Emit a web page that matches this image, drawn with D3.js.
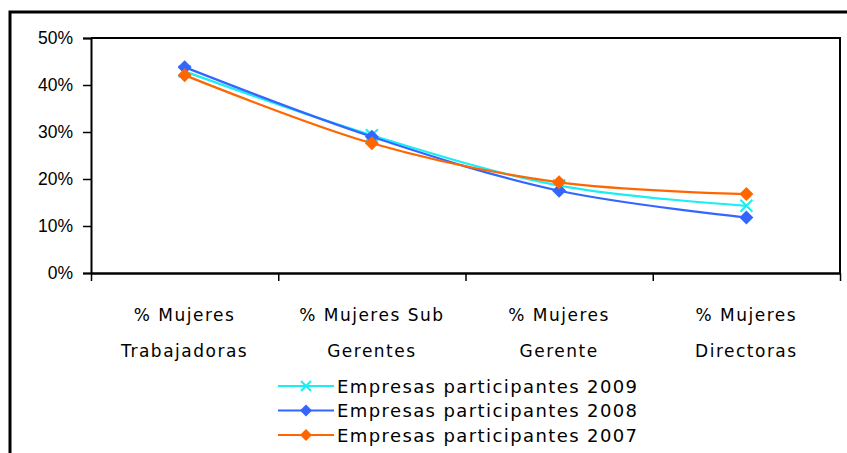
<!DOCTYPE html>
<html>
<head>
<meta charset="utf-8">
<script src="https://cdn.jsdelivr.net/npm/d3@7"></script>
<style>
  body { margin: 0; background: #fff; }
</style>
</head>
<body>
<div id="chart"></div>
<script>
var categories = [["% Mujeres", "Trabajadoras"], ["% Mujeres Sub", "Gerentes"], ["% Mujeres", "Gerente"], ["% Mujeres", "Directoras"]];
var seriesNames = ["Empresas participantes 2009", "Empresas participantes 2008", "Empresas participantes 2007"];
var values2009 = [0.429, 0.293, 0.186, 0.143];
var values2008 = [0.438, 0.290, 0.175, 0.118];
var values2007 = [0.421, 0.276, 0.193, 0.168];
var yTicks = [0, 0.1, 0.2, 0.3, 0.4, 0.5];

var series = [
    {name: seriesNames[0], values: values2009, color: "#19EEF0", marker: "x"},
    {name: seriesNames[1], values: values2008, color: "#3366FF", marker: "diamond"},
    {name: seriesNames[2], values: values2007, color: "#FF6600", marker: "diamond"}
];

var W = 847, H = 453;
var margin = {top: 38, right: 7, bottom: 180, left: 91},
    width = W - margin.left - margin.right,
    height = H - margin.top - margin.bottom;

var svg = d3.select("#chart").append("svg")
    .attr("width", W)
    .attr("height", H);

// outer chart frame
svg.append("rect")
    .attr("x", 10).attr("y", 12)
    .attr("width", 900).attr("height", 500)
    .attr("fill", "none").attr("stroke", "#000").attr("stroke-width", 3);

var g = svg.append("g")
    .attr("transform", "translate(" + margin.left + "," + margin.top + ")");

var x = d3.scaleBand()
    .domain(d3.range(categories.length))
    .range([0, width]);

var y = d3.scaleLinear()
    .domain([0, 0.5])
    .range([height, 0]);

// plot area frame (top & right)
g.append("path")
    .attr("d", "M0,0H" + width + "V" + height)
    .attr("fill", "none").attr("stroke", "#000").attr("stroke-width", 2);

// y axis
var yAxis = g.append("g")
    .call(d3.axisLeft(y).tickValues(yTicks).tickFormat(d3.format(".0%")).tickSize(8).tickPadding(10));
yAxis.select(".domain").attr("stroke-width", 2);
yAxis.selectAll(".tick line").attr("stroke-width", 1.5);
yAxis.selectAll("text")
    .style("font-family", "Liberation Sans, Arial, sans-serif")
    .style("font-size", "17.5px")
    .attr("fill", "#000");

// x axis with ticks at category boundaries
var bounds = d3.range(categories.length + 1);
var xb = d3.scaleLinear().domain([0, categories.length]).range([0, width]);
var xAxis = g.append("g")
    .attr("transform", "translate(0," + height + ")")
    .call(d3.axisBottom(xb).tickValues(bounds).tickFormat("").tickSize(8).tickSizeOuter(0));
xAxis.select(".domain").attr("stroke-width", 2.5);
xAxis.selectAll(".tick line").attr("stroke-width", 1.5);

// category labels
var catLabels = g.append("g").selectAll("text")
    .data(categories)
    .enter().append("text")
    .attr("x", function(d, i) { return x(i) + x.bandwidth() / 2; })
    .attr("y", height + 48)
    .attr("text-anchor", "middle")
    .style("font-family", "DejaVu Sans, sans-serif")
    .style("font-size", "17px")
    .style("letter-spacing", "1.5px")
    .attr("fill", "#000");
catLabels.each(function(d) {
    var t = d3.select(this);
    d.forEach(function(line, k) {
        t.append("tspan")
            .attr("x", t.attr("x"))
            .attr("dy", k === 0 ? 0 : 36)
            .text(line);
    });
});

var line = d3.line()
    .x(function(d, i) { return x(i) + x.bandwidth() / 2; })
    .y(function(d) { return y(d); })
    .curve(d3.curveCatmullRom.alpha(0.5));

function drawMarker(sel, type, color, size) {
    if (type === "x") {
        var s = size / 2;
        sel.append("path")
            .attr("d", "M" + (-s) + "," + (-s) + "L" + s + "," + s + "M" + (-s) + "," + s + "L" + s + "," + (-s))
            .attr("stroke", color).attr("stroke-width", 2).attr("fill", "none");
    } else {
        var s = size / 2 + 1;
        sel.append("path")
            .attr("d", "M0," + (-s) + "L" + s + ",0L0," + s + "L" + (-s) + ",0Z")
            .attr("fill", color);
    }
}

series.forEach(function(s) {
    g.append("path")
        .datum(s.values)
        .attr("d", line)
        .attr("fill", "none")
        .attr("stroke", s.color)
        .attr("stroke-width", 2.2);
    g.selectAll(null)
        .data(s.values)
        .enter().append("g")
        .attr("transform", function(d, i) { return "translate(" + (x(i) + x.bandwidth() / 2) + "," + y(d) + ")"; })
        .each(function() { drawMarker(d3.select(this), s.marker, s.color, 12); });
});

// legend
var legend = svg.append("g")
    .attr("transform", "translate(278,386)");
var items = legend.selectAll("g")
    .data(series)
    .enter().append("g")
    .attr("transform", function(d, i) { return "translate(0," + (i * 24.5) + ")"; });
items.append("line")
    .attr("x1", 0).attr("x2", 56)
    .attr("stroke", function(d) { return d.color; })
    .attr("stroke-width", 2.2);
items.append("g")
    .attr("transform", "translate(28,0)")
    .each(function(d) { drawMarker(d3.select(this), d.marker, d.color, 10); });
items.append("text")
    .attr("x", 59)
    .attr("y", 6.5)
    .style("font-family", "DejaVu Sans, sans-serif")
    .style("font-size", "18px")
    .style("letter-spacing", "1.4px")
    .attr("fill", "#000")
    .text(function(d) { return d.name; });
</script>
</body>
</html>
